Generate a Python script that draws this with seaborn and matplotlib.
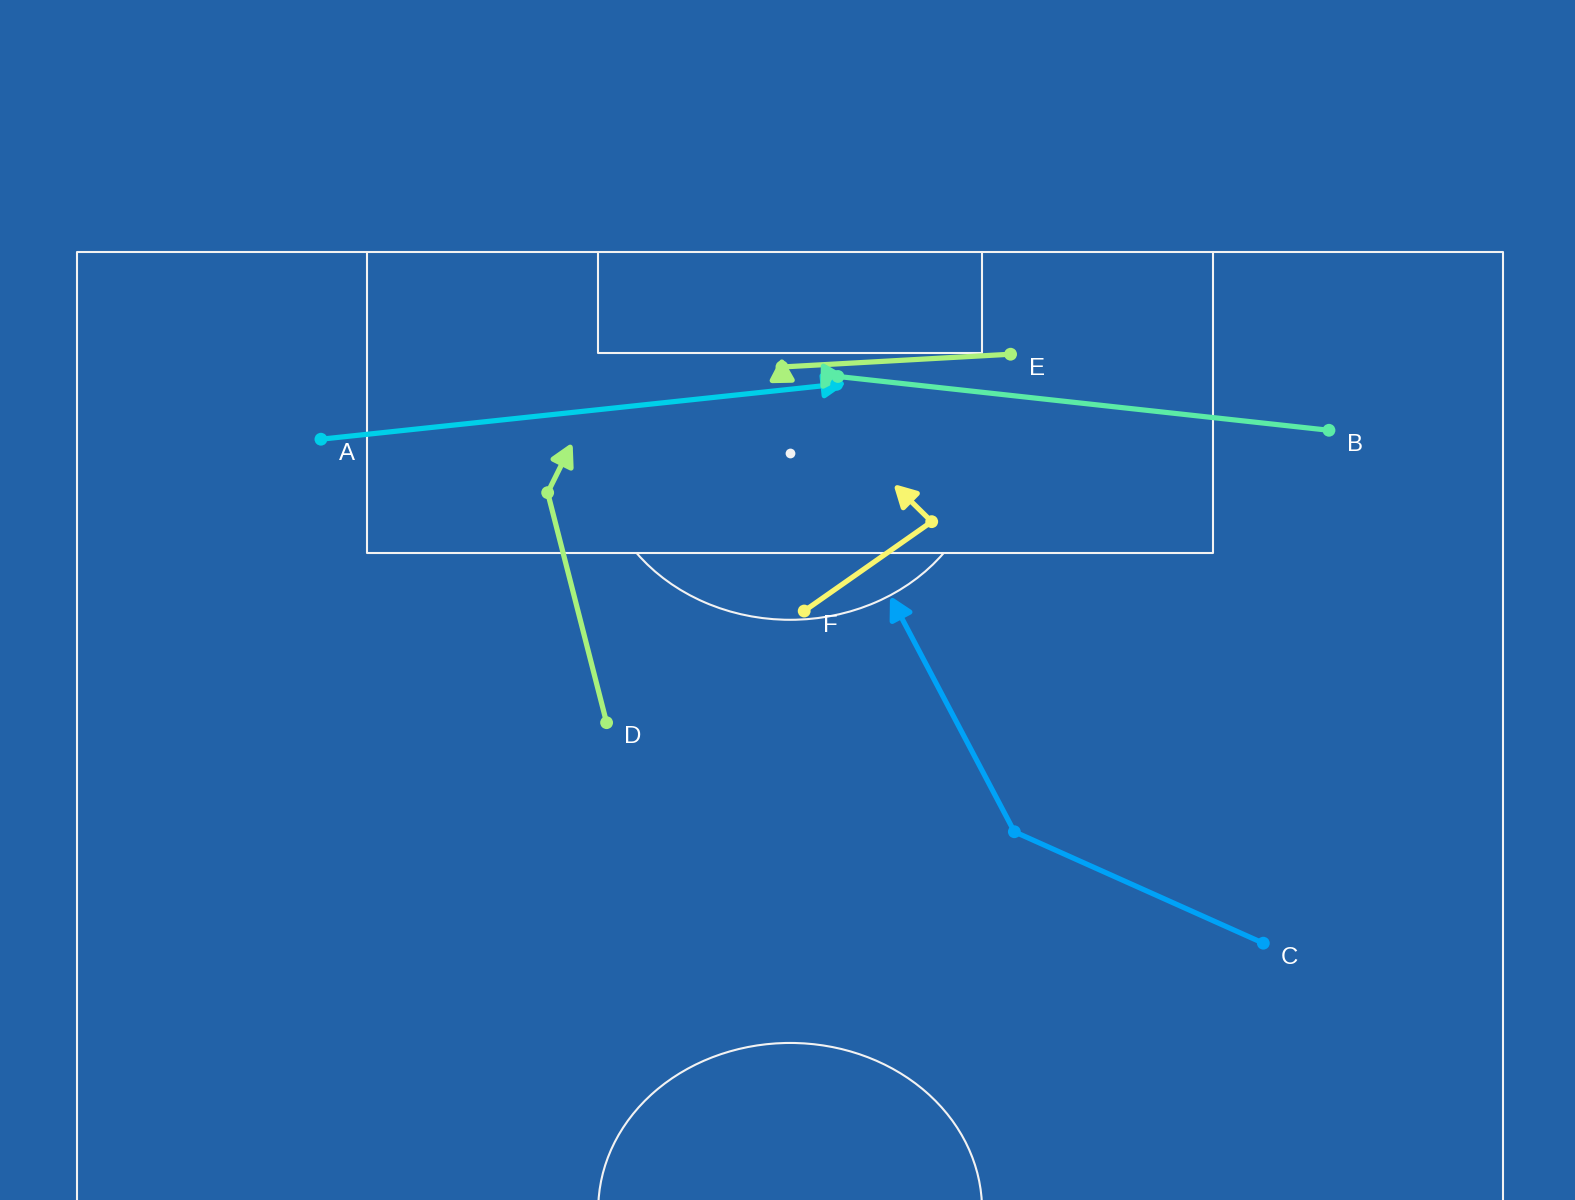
import numpy as np
import pandas as pd
import matplotlib
matplotlib.use("Agg")
import matplotlib.pyplot as plt
from matplotlib.patches import Arc
import seaborn as sns

# ---- data (pitch metres: x across 0..68, y along 0..105, goal at y=105) ----
players = ["A", "B", "C", "D", "E", "F"]
start_x = [11.63, 59.69, 56.56, 25.25, 44.51, 34.67]
start_y = [94.75, 95.24, 67.12, 79.21, 99.41, 85.33]
mid_x = [36.22, 36.28, 44.69, 22.44, 33.61, 40.75]
mid_y = [97.76, 98.19, 73.23, 91.82, 98.71, 90.23]
end_x = [36.70, 36.71, 38.76, 23.63, 33.60, 38.92]
end_y = [97.82, 98.18, 86.17, 94.58, 99.28, 92.30]
colors = ["#00cfe9", "#5ceba6", "#00a2f7", "#a8f07c", "#acf07c", "#f8f56f"]

PITCH_LEN = 105.0
PITCH_WID = 68.0
BOX_WID = 40.32
BOX_DEP = 16.5
SIX_WID = 18.32
SIX_DEP = 5.5
SPOT_DIST = 11.0
CIRCLE_R = 9.15

BG = "#2262a8"
LINE = "#f2f2f2"

sns.set_theme(style="white")
plt.rcParams["font.family"] = ["Liberation Sans", "DejaVu Sans"]

rows = []
for i, p in enumerate(players):
    rows.append(dict(player=p, step=0, x=start_x[i], y=start_y[i]))
    rows.append(dict(player=p, step=1, x=mid_x[i], y=mid_y[i]))
    rows.append(dict(player=p, step=2, x=end_x[i], y=end_y[i]))
df = pd.DataFrame(rows)
pal = dict(zip(players, colors))

fig = plt.figure(figsize=(10.5, 8), dpi=150, facecolor=BG)
ax = fig.add_axes([0, 0, 1, 1])
ax.set_facecolor(BG)

# ---- pitch ----
lw_p = 1.0
half = PITCH_LEN / 2
ax.plot([0, 0, PITCH_WID, PITCH_WID], [half, PITCH_LEN, PITCH_LEN, half], color=LINE, lw=lw_p, zorder=1)
ax.plot([0, PITCH_WID], [half, half], color=LINE, lw=lw_p, zorder=1)
bx0 = (PITCH_WID - BOX_WID) / 2
bx1 = bx0 + BOX_WID
ax.plot([bx0, bx0, bx1, bx1], [PITCH_LEN, PITCH_LEN - BOX_DEP, PITCH_LEN - BOX_DEP, PITCH_LEN],
        color=LINE, lw=lw_p, zorder=1)
sx0 = (PITCH_WID - SIX_WID) / 2
sx1 = sx0 + SIX_WID
ax.plot([sx0, sx0, sx1, sx1], [PITCH_LEN, PITCH_LEN - SIX_DEP, PITCH_LEN - SIX_DEP, PITCH_LEN],
        color=LINE, lw=lw_p, zorder=1)
spot_y = PITCH_LEN - SPOT_DIST
ax.scatter([PITCH_WID / 2], [spot_y], s=22, color=LINE, linewidths=0, zorder=1)
ang = np.degrees(np.arcsin((BOX_DEP - SPOT_DIST) / CIRCLE_R))
ax.add_patch(Arc((PITCH_WID / 2, spot_y), 2 * CIRCLE_R, 2 * CIRCLE_R,
                 theta1=180 + ang, theta2=360 - ang, color=LINE, lw=lw_p, zorder=1))
ax.add_patch(Arc((PITCH_WID / 2, half), 2 * CIRCLE_R, 2 * CIRCLE_R,
                 theta1=0, theta2=180, color=LINE, lw=lw_p, zorder=1))

# ---- runs ----
seg = df[df.step <= 1]
sns.lineplot(data=seg, x="x", y="y", hue="player", units="player", estimator=None,
             sort=False, palette=pal, lw=2.5, legend=False, ax=ax, zorder=3)

for i, p in enumerate(players):
    ax.annotate("", xy=(end_x[i], end_y[i]), xytext=(mid_x[i], mid_y[i]),
                arrowprops=dict(arrowstyle="-|>,head_length=0.88,head_width=0.48",
                                mutation_scale=10, color=colors[i], lw=2.5,
                                capstyle="butt", shrinkA=0, shrinkB=0), zorder=3)

sns.scatterplot(data=seg, x="x", y="y", hue="player", palette=pal, s=38,
                linewidth=0, legend=False, ax=ax, zorder=4)

for i, p in enumerate(players):
    ax.annotate(p, (start_x[i], start_y[i]), xytext=(12.5, -10), textcoords="offset points",
                ha="center", va="baseline", color="white", fontsize=11.5, zorder=5)

ax.set_xlim(-3.671, 71.42)
ax.set_ylim(53.04, 118.83)
ax.set_axis_off()

fig.savefig("out.png", dpi=150, facecolor=BG)
